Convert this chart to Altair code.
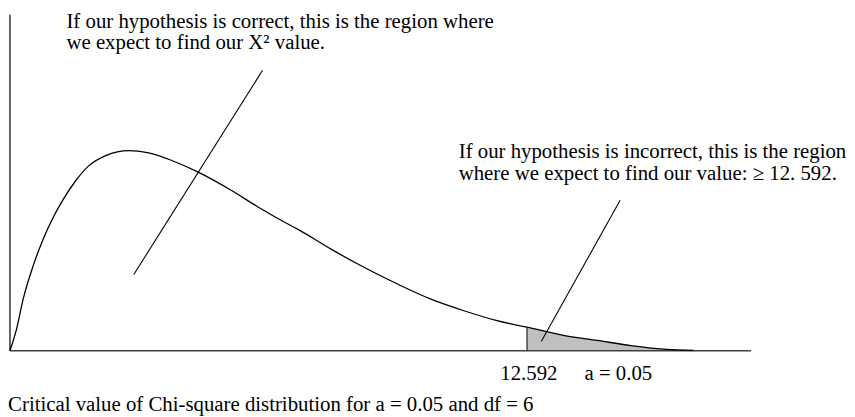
import altair as alt
import pandas as pd

# Curve (chi-square value, density)
chi = [0.0, 0.162, 0.321, 0.562, 0.803, 1.045, 1.286, 1.609, 1.930, 2.333, 2.895,
       3.378, 3.940, 4.584, 5.387, 6.031, 6.634, 7.037, 7.841, 8.644, 9.450,
       10.253, 11.057, 11.862, 12.592, 13.510, 14.306, 15.119, 16.003, 16.647]
dens = [0.0, 0.0147, 0.0347, 0.0569, 0.0747, 0.0893, 0.1013, 0.1147, 0.1247, 0.1313, 0.1347,
        0.1331, 0.1280, 0.1202, 0.1080, 0.0969, 0.0873, 0.0813, 0.0680, 0.0558, 0.0447,
        0.0347, 0.0269, 0.0202, 0.0158, 0.0102, 0.0069, 0.0035, 0.0009, 0.0002]

critical = 12.592
critical_density = 0.0158

# Axis extents
x_axis_end = 18.05
y_axis_top = 0.226

# Pointer lines (start x, start y, end x, end y)
ptr_x = [6.152, 14.861]
ptr_y = [0.1887, 0.1013]
ptr_x2 = [3.016, 12.943]
ptr_y2 = [0.0513, 0.0063]

# Text labels
label_text = [
    "If our hypothesis is correct, this is the region where",
    "we expect to find our X\u00b2 value.",
    "If our hypothesis is incorrect, this is the region",
    "where we expect to find our value: \u2265 12. 592.",
    "12.592",
    "a = 0.05",
    "Critical value of Chi-square distribution for a = 0.05 and df = 6",
]
label_x = [1.375, 1.375, 10.929, 10.929, 11.942, 13.993, -0.045]
label_y = [0.2173, 0.2027, 0.1300, 0.1147, -0.0200, -0.0200, -0.0405]

curve_df = pd.DataFrame({"chi": chi, "density": dens})
axes_df = pd.DataFrame({"x": [0.0, 0.0], "x2": [0.0, x_axis_end],
                        "y": [0.0, 0.0], "y2": [y_axis_top, 0.0]})
crit_df = pd.DataFrame({"x": [critical], "y": [0.0], "y2": [critical_density]})
ptr_df = pd.DataFrame({"x": ptr_x, "y": ptr_y, "x2": ptr_x2, "y2": ptr_y2})
text_df = pd.DataFrame({"t": label_text, "x": label_x, "y": label_y})

xs = alt.Scale(domain=[-0.048, 20.386], nice=False, zero=False)
ys = alt.Scale(domain=[-0.0433, 0.2293], nice=False, zero=False)

area = alt.Chart(curve_df).transform_filter(
    alt.datum.chi >= critical
).mark_area(color="#c0c0c0", interpolate="monotone").encode(
    x=alt.X("chi:Q", scale=xs, axis=None),
    y=alt.Y("density:Q", scale=ys, axis=None),
    y2=alt.datum(0),
)

axes = alt.Chart(axes_df).mark_rule(color="#404040", strokeWidth=1.6).encode(
    x=alt.X("x:Q", scale=xs, axis=None),
    x2="x2:Q",
    y=alt.Y("y:Q", scale=ys, axis=None),
    y2="y2:Q",
)

crit = alt.Chart(crit_df).mark_rule(color="#202020", strokeWidth=1.2).encode(
    x=alt.X("x:Q", scale=xs, axis=None),
    y=alt.Y("y:Q", scale=ys, axis=None),
    y2="y2:Q",
)

line = alt.Chart(curve_df).mark_line(color="black", strokeWidth=1.3, interpolate="monotone").encode(
    x=alt.X("chi:Q", scale=xs, axis=None),
    y=alt.Y("density:Q", scale=ys, axis=None),
)

ptrs = alt.Chart(ptr_df).mark_rule(color="black", strokeWidth=1.1).encode(
    x=alt.X("x:Q", scale=xs, axis=None),
    y=alt.Y("y:Q", scale=ys, axis=None),
    x2="x2:Q",
    y2="y2:Q",
)

texts = alt.Chart(text_df).mark_text(
    font="Liberation Serif", fontSize=21, align="left", baseline="alphabetic", color="black"
).encode(
    x=alt.X("x:Q", scale=xs, axis=None),
    y=alt.Y("y:Q", scale=ys, axis=None),
    text="t:N",
)

chart = alt.layer(area, axes, crit, line, ptrs, texts).properties(
    width=847, height=409, padding=0,
    autosize=alt.AutoSizeParams(type="none"),
).configure_view(stroke=None)

chart.save("out.html", embed_options={"renderer": "svg", "actions": False})
